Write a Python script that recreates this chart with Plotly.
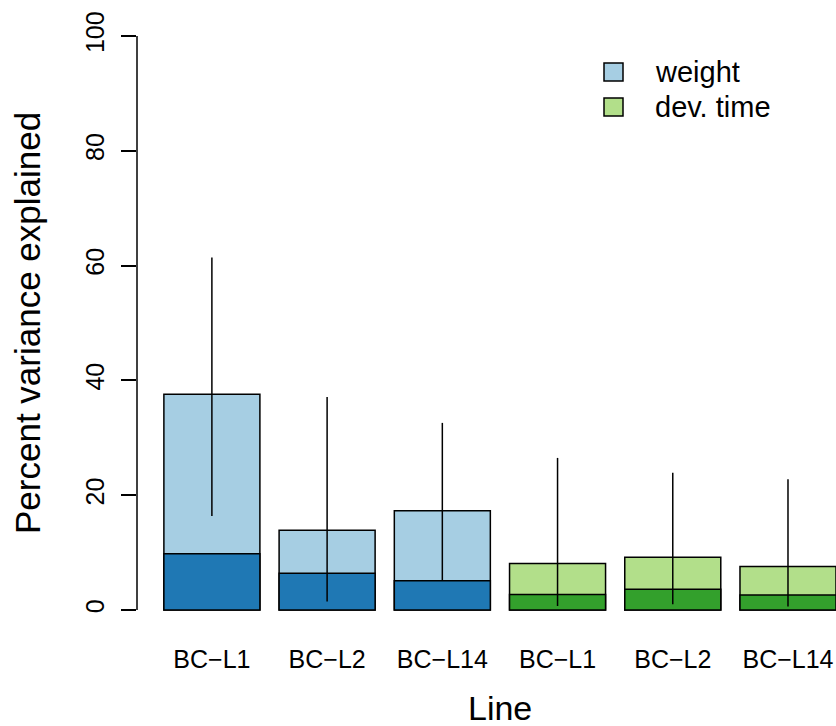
import plotly.graph_objects as go

# ---- data ----
line_labels = ["BC\u2212L1", "BC\u2212L2", "BC\u2212L14", "BC\u2212L1", "BC\u2212L2", "BC\u2212L14"]
weight_total = [37.6, 13.9, 17.3]
weight_part = [9.8, 6.4, 5.1]
weight_low = [16.4, 1.5, 5.1]
weight_high = [61.4, 37.1, 32.6]
dev_total = [8.1, 9.2, 7.6]
dev_part = [2.7, 3.6, 2.6]
dev_low = [0.7, 1.0, 0.6]
dev_high = [26.5, 23.9, 22.8]
y_ticks = [0, 20, 40, 60, 80, 100]
legend_names = ["weight", "dev. time"]

# colours
LB, DB, LG, DG = "#A6CEE3", "#1F78B4", "#B2DF8A", "#33A02C"
FONT = "Liberation Sans, Arial, sans-serif"

# R barplot-like positions (width 1, space 0.2)
centers = [0.7 + 1.2 * i for i in range(len(line_labels))]
xw = centers[:3]
xd = centers[3:]

W, H = 836, 726
ML, MR, MT = 137, 0, 13
PLOT_BOTTOM = 633
MB = H - PLOT_BOTTOM
PW, PH = W - ML - MR, H - MT - MB

fig = go.Figure()
outline = dict(color="black", width=1.5)
fig.add_trace(go.Bar(x=xw, y=weight_total, width=1, marker=dict(color=LB, line=outline), showlegend=False))
fig.add_trace(go.Bar(x=xd, y=dev_total, width=1, marker=dict(color=LG, line=outline), showlegend=False))
fig.add_trace(go.Bar(x=xw, y=weight_part, width=1, marker=dict(color=DB, line=outline), showlegend=False))
fig.add_trace(go.Bar(x=xd, y=dev_part, width=1, marker=dict(color=DG, line=outline), showlegend=False))

# error segments
ex, ey = [], []
for x, lo, hi in zip(xw + xd, weight_low + dev_low, weight_high + dev_high):
    ex += [x, x, None]
    ey += [lo, hi, None]
fig.add_trace(go.Scatter(x=ex, y=ey, mode="lines", line=dict(color="black", width=1.5),
                         showlegend=False, hoverinfo="skip"))


# helpers: screen pixel -> paper coords
def px_x(px):
    return (px - ML) / PW


def px_y(py):
    return (H - MB - py) / PH


shapes = [
    dict(type="line", xref="paper", yref="y", x0=0, x1=0, y0=y_ticks[0], y1=y_ticks[-1],
         line=dict(color="black", width=1.5)),
]
annotations = []
# legend
for i, (name, col) in enumerate(zip(legend_names, [LB, LG])):
    cy = 72 + i * 35
    shapes.append(dict(type="rect", xref="paper", yref="paper",
                       x0=px_x(604), x1=px_x(623), y0=px_y(cy + 9), y1=px_y(cy - 9),
                       fillcolor=col, line=dict(color="black", width=1.5)))
    annotations.append(dict(xref="paper", yref="paper", x=px_x(653), y=px_y(cy), text=name,
                            showarrow=False, xanchor="left", yanchor="middle",
                            font=dict(family=FONT, size=29, color="black")))

# axis titles
annotations.append(dict(xref="paper", yref="paper", x=px_x(500), y=px_y(708), text="Line",
                        showarrow=False, xanchor="center", yanchor="middle",
                        font=dict(family=FONT, size=34, color="black")))
annotations.append(dict(xref="paper", yref="paper", x=px_x(27), y=px_y(323),
                        text="Percent variance explained", textangle=-90,
                        showarrow=False, xanchor="center", yanchor="middle",
                        font=dict(family=FONT, size=35, color="black")))

fig.update_layout(
    width=W, height=H,
    margin=dict(l=ML, r=MR, t=MT, b=MB, pad=0),
    paper_bgcolor="white", plot_bgcolor="white",
    barmode="overlay",
    shapes=shapes, annotations=annotations,
    xaxis=dict(range=[-0.08, 7.2], tickmode="array", tickvals=centers, ticktext=line_labels,
               showline=False, showgrid=False, zeroline=False, ticks="",
               tickfont=dict(family=FONT, size=25, color="black"), ticklabelstandoff=9),
    yaxis=dict(range=[-4, 104], tickmode="array", tickvals=y_ticks,
               showline=False, showgrid=False, zeroline=False,
               ticks="outside", ticklen=15, tickwidth=1.5, tickcolor="black",
               tickangle=-90, tickfont=dict(family=FONT, size=25, color="black"),
               ticklabelstandoff=7),
    font=dict(family=FONT, color="black"),
)

fig.write_html("out.html", config={"displayModeBar": False},
               post_script="document.body.style.margin='0';document.body.style.overflow='hidden';")
